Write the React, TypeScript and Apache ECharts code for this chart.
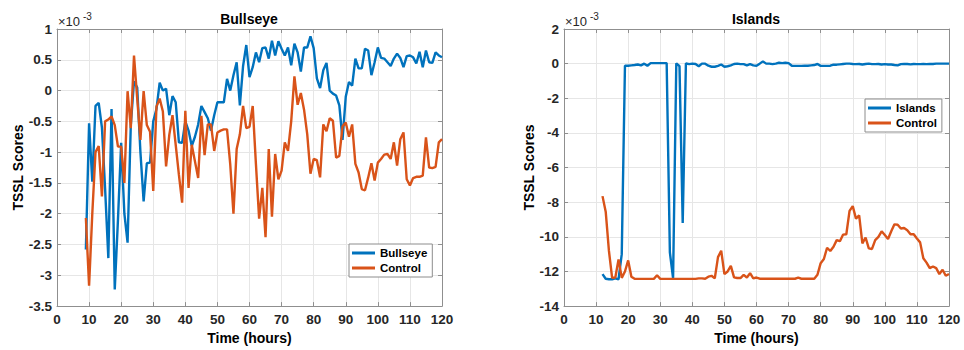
import React, { useEffect, useRef } from 'react';
import * as echarts from 'echarts';

// ---- data (TSSL scores, in units of 1e-3) ----
const bullseyeStartHour = 9;
const bullseyeScores = [
  -2.58, -0.53, -1.48, -0.25, -0.2, -0.6, -1.6, -2.72, -0.3, -3.23,
  -2.1, -0.85, -2.0, -2.47, -0.56, 0.15, 0.05, -1.0, -1.8, -1.18,
  -1.17, -0.5, -0.3, 0.13, 0.0, 0.03, -0.4, -0.09, -0.19, -0.84,
  -0.85, -0.5, -0.65, -0.9, -0.75, -0.55, -0.25, -0.35, -0.45, -0.65,
  -0.4, -0.19, -0.19, -0.19, 0.19, 0.0, 0.25, 0.46, -0.24, 0.4,
  0.74, 0.22, 0.38, 0.62, 0.46, 0.69, 0.7, 0.52, 0.81, 0.57,
  0.8, 0.68, 0.57, 0.7, 0.41, 0.76, 0.62, 0.31, 0.7, 0.7,
  0.88, 0.69, 0.2, 0.04, 0.33, 0.45, 0.0, -0.05, -0.08, -0.24,
  -0.8, -0.1, 0.14, 0.08, 0.52, 0.36, 0.36, 0.68, 0.65, 0.25,
  0.46, 0.7, 0.53, 0.52, 0.46, 0.4, 0.52, 0.6, 0.53, 0.38,
  0.56, 0.57, 0.54, 0.44, 0.63, 0.38, 0.65, 0.46, 0.45, 0.62,
  0.57, 0.54,
];
const bullseyeControlScores = [
  -2.07, -3.17, -2.0, -1.0, -0.9, -1.72, -0.5, -0.47, -0.42, -0.56,
  -0.91, -0.91, -1.5, -0.01, -0.61, 0.57, -0.13, -0.8, -0.01, -0.56,
  -0.67, -1.63, -0.26, -0.13, -0.34, -1.23, -0.72, -0.4, -0.88, -1.37,
  -1.82, -0.33, -1.58, -0.88, -1.15, -1.42, -0.41, -1.05, -0.55, -0.55,
  -0.98, -0.68, -0.65, -0.63, -0.63, -1.2, -2.0, -0.95, -0.71, -0.25,
  -0.61, -0.59, -0.25, -1.19, -2.08, -1.58, -2.38, -0.95, -2.05, -1.03,
  -1.44, -1.3, -0.84, -0.98, -0.5, 0.23, -0.23, -0.04, -0.31, -0.71,
  -1.35, -1.11, -1.13, -1.41, -0.55, -0.66, -0.45, -0.49, -1.09, -1.06,
  -0.58, -0.52, -0.75, -0.55, -1.19, -1.33, -1.6, -1.62, -1.41, -1.18,
  -1.46, -1.17, -1.11, -1.04, -1.03, -1.11, -0.84, -1.22, -0.79, -0.68,
  -1.44, -1.54, -1.42, -1.4, -1.4, -1.38, -0.76, -1.25, -1.26, -1.24,
  -0.84, -0.79,
];

const islandsStartHour = 12;
const islandsScores = [
  -12.15, -12.42, -12.45, -12.45, -12.4, -12.45, -11.0, -0.12, -0.12, -0.1,
  -0.08, -0.05, -0.1, 0.0, -0.12, 0.03, 0.03, 0.03, 0.03, 0.03,
  0.03, -10.9, -12.4, 0.02, -0.15, -9.2, 0.02, -0.03, 0.0, -0.02,
  -0.15, 0.0, 0.0, -0.12, -0.18, -0.18, -0.13, -0.05, -0.18, -0.15,
  -0.1, -0.02, 0.0, -0.03, -0.03, -0.1, -0.03, -0.1, -0.12, 0.0,
  0.13, 0.0, 0.0, -0.03, 0.0, 0.05, 0.03, 0.05, 0.03, -0.12,
  -0.13, -0.13, -0.13, -0.12, -0.12, -0.1, -0.08, -0.02, -0.13, -0.13,
  -0.13, -0.12, -0.06, -0.06, -0.04, -0.02, 0.0, 0.0, -0.02, -0.03,
  -0.02, -0.05, -0.02, 0.0, -0.03, -0.03, -0.02, -0.05, -0.03, -0.05,
  -0.05, -0.08, -0.1, -0.03, -0.02, -0.02, -0.04, -0.02, -0.03, -0.03,
  -0.02, -0.03, -0.02, -0.02, 0.0, 0.0, 0.0, 0.0, 0.0,
];
const islandsControlScores = [
  -7.65, -8.55, -10.8, -12.37, -12.35, -11.3, -12.37, -12.0, -11.36, -12.3,
  -12.42, -12.43, -12.43, -12.43, -12.43, -12.43, -12.43, -12.22, -12.43, -12.43,
  -12.43, -12.43, -12.43, -12.43, -12.43, -12.43, -12.43, -12.43, -12.43, -12.43,
  -12.4, -12.4, -12.42, -12.3, -12.25, -12.4, -11.17, -10.8, -12.15, -12.0,
  -11.68, -12.34, -12.38, -12.38, -12.2, -12.35, -12.1, -12.4, -12.35, -12.42,
  -12.42, -12.42, -12.42, -12.42, -12.42, -12.42, -12.42, -12.42, -12.42, -12.42,
  -12.42, -12.36, -12.42, -12.42, -12.42, -12.42, -12.42, -12.19, -11.52, -11.28,
  -10.63, -10.82, -10.57, -10.19, -10.25, -9.87, -9.85, -8.5, -8.23, -8.95,
  -8.76, -10.38, -10.04, -10.67, -10.7, -10.19, -10.0, -9.68, -9.9, -10.13,
  -9.68, -9.28, -9.3, -9.52, -9.49, -9.62, -9.85, -9.85, -10.1, -10.32,
  -11.24, -11.49, -11.81, -11.71, -11.81, -12.15, -11.9, -12.25, -12.15,
];

const titles = ['Bullseye', 'Islands'];
const legendNames = [['Bullseye', 'Control'], ['Islands', 'Control']];
const xRange = { min: 0, max: 120, interval: 10 };
const yRanges = [
  { min: -3.5, max: 1, interval: 0.5 },
  { min: -14, max: 2, interval: 2 },
];
const xName = 'Time (hours)';
const yName = 'TSSL Scores';
const exponentBase = '×10';
const exponentPower = '-3';

const BLUE = '#0072BD';
const ORANGE = '#D95319';
const AXIS = '#8f8f8f';
const GRIDC = '#e6e6e6';
const TXT = '#262626';
const FONT = '"Liberation Sans", Arial, Helvetica, sans-serif';

const toPairs = (start: number, vals: number[]) => vals.map((v, i) => [start + i, v]);

export default function App() {
  const ref = useRef<HTMLDivElement>(null);
  useEffect(() => {
    if (!ref.current) return;
    const chart = echarts.init(ref.current, undefined, { renderer: 'svg' });
    const grids = [
      { left: 57, top: 29, width: 385, height: 279 },
      { left: 564, top: 29, width: 385, height: 279 },
    ];
    const labelStyle = { color: TXT, fontWeight: 'bold', fontSize: 13.5, fontFamily: FONT };
    const lineOpt = { show: true, onZero: false, lineStyle: { color: AXIS, width: 1 } };
    const tickOpt = { show: true, inside: true, length: 4, lineStyle: { color: AXIS } };
    const xAxes: any[] = [];
    const yAxes: any[] = [];
    [0, 1].forEach((g) => {
      xAxes.push({
        gridIndex: g, type: 'value', position: 'bottom', ...xRange,
        axisLine: lineOpt, axisTick: tickOpt,
        axisLabel: { ...labelStyle, margin: 6 },
        splitLine: { show: true, lineStyle: { color: GRIDC, width: 1 } },
        name: xName, nameLocation: 'middle', nameGap: 23,
        nameTextStyle: { color: '#000', fontWeight: 'bold', fontSize: 14, fontFamily: FONT },
      });
      xAxes.push({
        gridIndex: g, type: 'value', position: 'top', ...xRange,
        axisLine: lineOpt, axisTick: tickOpt,
        axisLabel: { show: false }, splitLine: { show: false },
      });
      yAxes.push({
        gridIndex: g, type: 'value', position: 'left', ...yRanges[g],
        axisLine: lineOpt, axisTick: tickOpt,
        axisLabel: { ...labelStyle, margin: 5 },
        splitLine: { show: true, lineStyle: { color: GRIDC, width: 1 } },
        name: yName, nameLocation: 'middle', nameGap: g === 0 ? 31 : 27,
        nameTextStyle: { color: '#000', fontWeight: 'bold', fontSize: 14, fontFamily: FONT },
      });
      yAxes.push({
        gridIndex: g, type: 'value', position: 'right', ...yRanges[g],
        axisLine: lineOpt, axisTick: tickOpt,
        axisLabel: { show: false }, splitLine: { show: false },
      });
    });

    const mkSeries = (name: string, color: string, data: number[][], g: number) => ({
      name, type: 'line', data, xAxisIndex: g * 2, yAxisIndex: g * 2,
      showSymbol: false, symbol: 'none', lineStyle: { color, width: 2.4 },
      itemStyle: { color }, emphasis: { disabled: true },
    });

    const legendBase = {
      orient: 'vertical', icon: 'rect', itemWidth: 23, itemHeight: 3, itemGap: 1,
      padding: [2, 5, 2, 3], backgroundColor: '#fff', borderColor: '#8c8c8c', borderWidth: 1,
      borderRadius: 0, selectedMode: false,
      textStyle: { color: '#000', fontWeight: 'bold', fontSize: 11.5, fontFamily: FONT, lineHeight: 14 },
    };

    const exponentTexts = [57, 564].flatMap((x) => [
      { type: 'text', left: x + 1, top: 15, style: { text: exponentBase, fill: TXT, font: `13px ${FONT}` } },
      { type: 'text', left: x + 26, top: 11, style: { text: exponentPower, fill: TXT, font: `10px ${FONT}` } },
    ]);

    chart.setOption({
      animation: false,
      backgroundColor: '#fff',
      title: [
        { text: titles[0], left: 249, top: 12, textAlign: 'center', padding: 0,
          textStyle: { color: '#000', fontWeight: 'bold', fontSize: 14, fontFamily: FONT } },
        { text: titles[1], left: 756, top: 12, textAlign: 'center', padding: 0,
          textStyle: { color: '#000', fontWeight: 'bold', fontSize: 14, fontFamily: FONT } },
      ],
      grid: grids,
      xAxis: xAxes,
      yAxis: yAxes,
      legend: [
        { ...legendBase, data: legendNames[0], left: 349, top: 244 },
        { ...legendBase, data: legendNames[1], left: 865, top: 99 },
      ],
      graphic: exponentTexts,
      series: [
        mkSeries(legendNames[0][0], BLUE, toPairs(bullseyeStartHour, bullseyeScores), 0),
        mkSeries(legendNames[0][1], ORANGE, toPairs(bullseyeStartHour, bullseyeControlScores), 0),
        mkSeries(legendNames[1][0], BLUE, toPairs(islandsStartHour, islandsScores), 1),
        mkSeries(legendNames[1][1], ORANGE, toPairs(islandsStartHour, islandsControlScores), 1),
      ],
    });
    return () => chart.dispose();
  }, []);
  return (
    <div
      ref={ref}
      style={{ position: 'fixed', left: 0, top: 0, width: 964, height: 350, background: '#fff' }}
    />
  );
}
